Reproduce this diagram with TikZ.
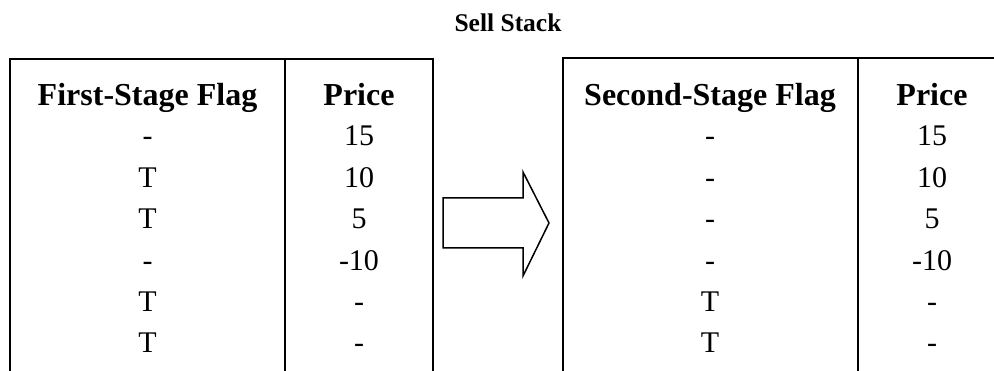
\documentclass[tikz,border=0pt]{standalone}
\usepackage{fontspec}
\setmainfont{Liberation Serif}
\usepackage{tikz}
\newcommand{\bodysize}{\fontsize{30}{36}\selectfont}
\newcommand{\headsize}{\fontsize{32}{38}\selectfont\bfseries}
\tikzset{
  cell/.style={anchor=base, inner sep=0pt, font=\bodysize},
  head/.style={anchor=base, inner sep=0pt, font=\headsize},
  rule/.style={line width=2pt},
}
\begin{document}
\begin{tikzpicture}[x=1pt, y=1pt]
                \useasboundingbox (0,0) rectangle (994,371);

                \node[anchor=base, inner sep=0pt, font=\fontsize{25.5}{30}\selectfont\bfseries] (title) at (508,339) {Sell Stack};

                % first table
                \draw[rule] (10,0) -- (10,312) -- (433,312) -- (433,0);
                \draw[rule] (285,0) -- (285,312);

                \node[head] (F0) at (147.5,265) {First-Stage Flag};
                \node[head] (P0) at (359,265) {Price};

                \node[cell] (F1) at (147.5,225) {-};
                \node[cell] (F2) at (147.5,183.6) {T};
                \node[cell] (F3) at (147.5,142.2) {T};
                \node[cell] (F4) at (147.5,100.8) {-};
                \node[cell] (F5) at (147.5,59.4) {T};
                \node[cell] (F6) at (147.5,18) {T};

                \node[cell] (P1) at (359,225) {15};
                \node[cell] (P2) at (359,183.6) {10};
                \node[cell] (P3) at (359,142.2) {5};
                \node[cell] (P4) at (359,100.8) {-10};
                \node[cell] (P5) at (359,59.4) {-};
                \node[cell] (P6) at (359,18) {-};

                % block arrow
                \draw[line width=1.5pt, line join=miter] (443,173) -- (523,173) -- (523,199) -- (549,148)
                      -- (523,95) -- (523,123) -- (443,123) -- cycle;

                % second table
                \draw[rule] (563,0) -- (563,313) -- (994,313);
                \draw[rule] (858,0) -- (858,313);

                \node[head] (S0) at (710,265) {Second-Stage Flag};
                \node[head] (Q0) at (932,265) {Price};

                \node[cell] (S1) at (710,225) {-};
                \node[cell] (S2) at (710,183.6) {-};
                \node[cell] (S3) at (710,142.2) {-};
                \node[cell] (S4) at (710,100.8) {-};
                \node[cell] (S5) at (710,59.4) {T};
                \node[cell] (S6) at (710,18) {T};

                \node[cell] (Q1) at (932,225) {15};
                \node[cell] (Q2) at (932,183.6) {10};
                \node[cell] (Q3) at (932,142.2) {5};
                \node[cell] (Q4) at (932,100.8) {-10};
                \node[cell] (Q5) at (932,59.4) {-};
                \node[cell] (Q6) at (932,18) {-};
            \end{tikzpicture}
\end{document}
